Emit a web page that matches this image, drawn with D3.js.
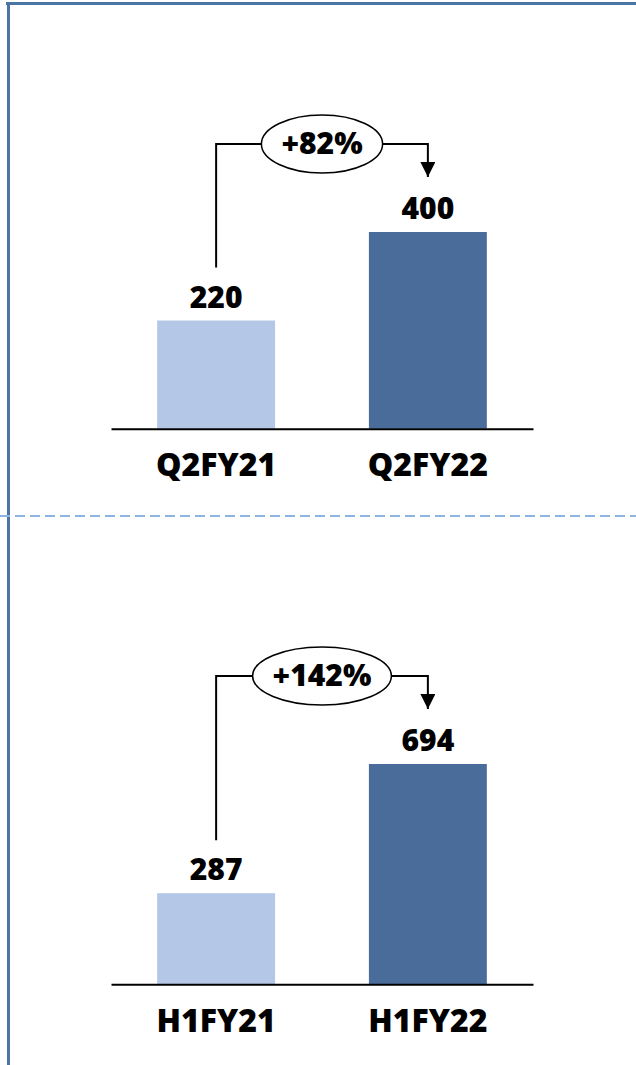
<!DOCTYPE html>
<html>
<head>
<meta charset="utf-8">
<script src="https://cdn.jsdelivr.net/npm/d3@7"></script>
<style>
  html, body { margin: 0; padding: 0; background: #fff; }
  svg { display: block; font-family: "Open Sans", sans-serif; font-weight: 800; }
</style>
</head>
<body>
<script>
const w = 636;
const h = 1065;

// data
const quarterLabels = ["Q2FY21", "Q2FY22"];
const quarterValues = [220, 400];
const halfLabels = ["H1FY21", "H1FY22"];
const halfValues = [287, 694];
const growthLabels = ["+82%", "+142%"];

const barColors = ["#b4c7e7", "#4a6c9b"];

const svg = d3.select("body")
  .append("svg")
  .attr("width", w)
  .attr("height", h);

// frame
svg.append("rect").attr("x", 6).attr("y", 2).attr("width", w - 6).attr("height", 3).attr("fill", "#4a75a4");
svg.append("rect").attr("x", 7).attr("y", 2).attr("width", 3).attr("height", h).attr("fill", "#4a75a4");

svg.append("line")
  .attr("x1", 0).attr("x2", w)
  .attr("y1", 516).attr("y2", 516)
  .attr("stroke", "#8db4e2")
  .attr("stroke-width", 2)
  .attr("stroke-dasharray", "10,5");

svg.append("defs").append("marker")
  .attr("id", "arrow")
  .attr("viewBox", "0 0 10 10")
  .attr("refX", 10).attr("refY", 5)
  .attr("markerUnits", "userSpaceOnUse")
  .attr("markerWidth", 15).attr("markerHeight", 15)
  .attr("orient", "auto")
  .append("path")
  .attr("d", "M0,0 L10,5 L0,10 z")
  .attr("fill", "#000");

function drawPanel(labels, values, growth, axisY, maxHeight) {
  const g = svg.append("g");

  const x = d3.scaleBand()
    .domain(labels)
    .range([111, 533])
    .paddingInner(0.443)
    .paddingOuter(0.218);

  const y = d3.scaleLinear()
    .domain([0, d3.max(values)])
    .range([axisY, axisY - maxHeight]);

  g.selectAll("rect.bar")
    .data(values)
    .enter()
    .append("rect")
    .attr("class", "bar")
    .attr("x", (d, i) => x(labels[i]))
    .attr("y", d => y(d))
    .attr("width", x.bandwidth())
    .attr("height", d => axisY - y(d))
    .attr("fill", (d, i) => barColors[i]);

  g.selectAll("text.val")
    .data(values)
    .enter()
    .append("text")
    .attr("class", "val")
    .attr("x", (d, i) => x(labels[i]) + x.bandwidth() / 2)
    .attr("y", d => y(d) - 13)
    .attr("text-anchor", "middle")
    .attr("font-size", 30)
    .text(d => d);

  const axis = g.append("g")
    .attr("transform", "translate(0," + axisY + ")")
    .call(d3.axisBottom(x).tickSize(0).tickPadding(0));
  axis.select(".domain").attr("stroke", "#000").attr("stroke-width", 2);
  axis.selectAll("text")
    .attr("y", 47.5)
    .attr("dy", 0)
    .attr("fill", "#000")
    .style("font-family", "'Open Sans', sans-serif")
    .style("font-weight", "800")
    .style("font-size", "32px");

  // growth bracket
  const x0 = x(labels[0]) + x.bandwidth() / 2;
  const x1 = x(labels[1]) + x.bandwidth() / 2;
  const topY = y(values[1]) - 88;
  const startY = y(values[0]) - 53;
  const endY = y(values[1]) - 55;

  g.append("path")
    .attr("d", `M${x0},${startY} V${topY} H${x1} V${endY}`)
    .attr("fill", "none")
    .attr("stroke", "#000")
    .attr("stroke-width", 2)
    .attr("marker-end", "url(#arrow)");

  const cx = (x0 + x1) / 2;
  const ell = g.append("ellipse")
    .attr("cx", cx).attr("cy", topY)
    .attr("ry", 29)
    .attr("fill", "#fff")
    .attr("stroke", "#000")
    .attr("stroke-width", 1.5);

  const t = g.append("text")
    .attr("x", cx)
    .attr("y", topY + 10)
    .attr("text-anchor", "middle")
    .attr("font-size", 30)
    .text(growth);
  ell.attr("rx", t.node().getComputedTextLength() / 2 + 20);
}

drawPanel(quarterLabels, quarterValues, growthLabels[0], 428.7, 196.7);
drawPanel(halfLabels, halfValues, growthLabels[1], 984.3, 220.3);
</script>
</body>
</html>
